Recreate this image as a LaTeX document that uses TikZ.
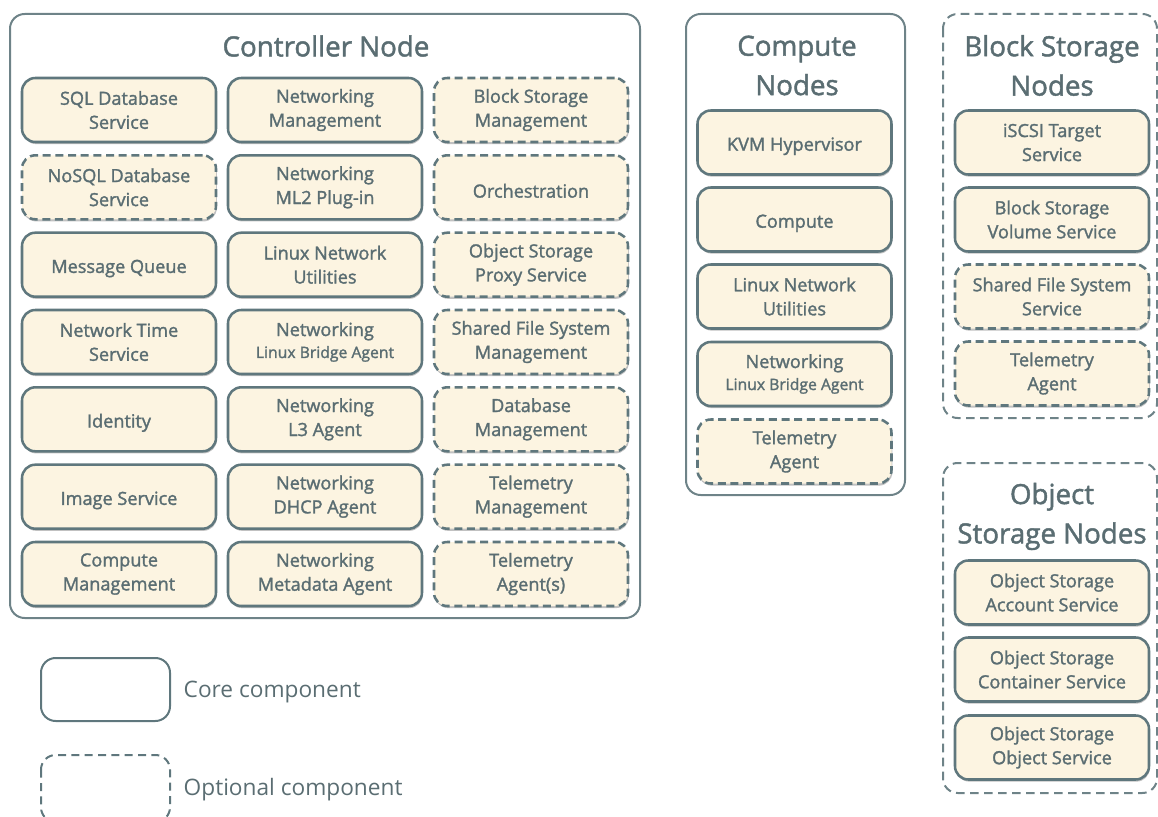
\documentclass[tikz,border=0pt]{standalone}
\usepackage{fontspec}
\setmainfont{Open Sans}
\newfontfamily\semib{Open Sans}[FakeBold=1.6]
\usetikzlibrary{shadows}
\definecolor{edge}{HTML}{5F777D}
\definecolor{outer}{HTML}{6E8388}
\definecolor{cream}{HTML}{FCF4E1}
\definecolor{txt}{HTML}{5A6D72}
\tikzset{
  comp/.style={draw=edge, line width=1.9pt, fill=cream, rounded corners=10pt,
    minimum width=145.5pt, minimum height=48pt, align=center, text=txt,
    font=\semib\fontsize{13.6}{18}\selectfont, inner sep=0pt,
    execute at begin node={\rule{0pt}{15.6pt}},
    drop shadow={shadow xshift=0.6pt, shadow yshift=-1.6pt, opacity=0.35, fill=black!70}},
  opt/.style={comp, dash pattern=on 6pt off 3.5pt},
  grp/.style={draw=outer, line width=1.5pt, rounded corners=11pt},
  optgrp/.style={grp, dash pattern=on 6.5pt off 4pt},
  ttl/.style={text=txt, font=\semib\fontsize{20.8}{29.5}\selectfont, align=center},
  legtxt/.style={text=txt, font=\fontsize{17}{20}\selectfont, anchor=west}
}
\newcommand{\lba}{{\fontsize{11.8}{14}\selectfont Linux Bridge Agent}}
\begin{document}
\begin{tikzpicture}[x=0.75pt,y=-0.75pt]
\useasboundingbox (0,0) rectangle (1158,817);
% group boxes
\draw[grp] (10,14) rectangle (640,618);
\draw[grp] (686,14) rectangle (905,495);
\draw[optgrp] (943,14) rectangle (1157,418);
\draw[optgrp] (943,463) rectangle (1157,793);
\node[ttl] (tctl) at (326,46) {Controller Node};
\node[ttl] (tcmp) at (797,65.5) {Compute\\Nodes};
\node[ttl] (tblk) at (1052,65.5) {Block Storage\\Nodes};
\node[ttl] (tobj) at (1052,516.5) {Object\\Storage Nodes};
% controller column 1
\node[comp] (c11) at (119,110) {SQL Database\\Service};
\node[opt]  (c12) at (119,187.3) {NoSQL Database\\Service};
\node[comp] (c13) at (119,264.7) {Message Queue};
\node[comp] (c14) at (119,342) {Network Time\\Service};
\node[comp] (c15) at (119,419.3) {Identity};
\node[comp] (c16) at (119,496.7) {Image Service};
\node[comp] (c17) at (119,574) {Compute\\Management};
% controller column 2
\node[comp] (c21) at (325,110) {Networking\\Management};
\node[comp] (c22) at (325,187.3) {Networking\\ML2 Plug-in};
\node[comp] (c23) at (325,264.7) {Linux Network\\Utilities};
\node[comp, font=\semib\fontsize{13.6}{16.5}\selectfont] (c24) at (325,342) {Networking\\\lba};
\node[comp] (c25) at (325,419.3) {Networking\\L3 Agent};
\node[comp] (c26) at (325,496.7) {Networking\\DHCP Agent};
\node[comp] (c27) at (325,574) {Networking\\Metadata Agent};
% controller column 3
\node[opt] (c31) at (531,110) {Block Storage\\Management};
\node[opt] (c32) at (531,187.3) {Orchestration};
\node[opt] (c33) at (531,264.7) {Object Storage\\Proxy Service};
\node[opt] (c34) at (531,342) {Shared File System\\Management};
\node[opt] (c35) at (531,419.3) {Database\\Management};
\node[opt] (c36) at (531,496.7) {Telemetry\\Management};
\node[opt] (c37) at (531,574) {Telemetry\\Agent(s)};
% compute nodes
\node[comp] (k1) at (794.5,142.5) {KVM Hypervisor};
\node[comp] (k2) at (794.5,219.5) {Compute};
\node[comp] (k3) at (794.5,296.5) {Linux Network\\Utilities};
\node[comp, font=\semib\fontsize{13.6}{16.5}\selectfont] (k4) at (794.5,374) {Networking\\\lba};
\node[opt]  (k5) at (794.5,451.5) {Telemetry\\Agent};
% block storage nodes
\node[comp] (b1) at (1052,142.5) {iSCSI Target\\Service};
\node[comp] (b2) at (1052,219.5) {Block Storage\\Volume Service};
\node[opt]  (b3) at (1052,296.5) {Shared File System\\Service};
\node[opt]  (b4) at (1052,373.5) {Telemetry\\Agent};
% object storage nodes
\node[comp] (o1) at (1052,592.5) {Object Storage\\Account Service};
\node[comp] (o2) at (1052,669.5) {Object Storage\\Container Service};
\node[comp] (o3) at (1052,747.5) {Object Storage\\Object Service};
% legend
\draw[grp, draw=edge] (41,658) rectangle (170,721);
\node[legtxt] (lcore) at (179,692) {Core component};
\draw[optgrp, draw=edge, dash pattern=on 6pt off 4pt] (41,755) rectangle (170,822);
\node[legtxt] (lopt) at (179,790) {Optional component};
\end{tikzpicture}
\end{document}
